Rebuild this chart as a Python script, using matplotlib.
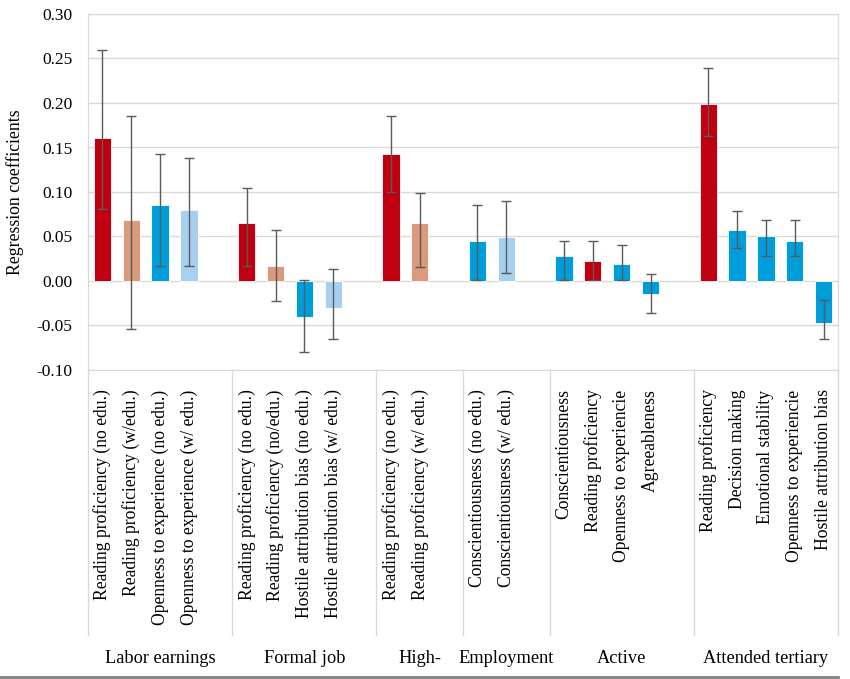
import matplotlib.pyplot as plt
from matplotlib.lines import Line2D
import matplotlib.transforms as mtransforms

plt.rcParams['font.family'] = ['Liberation Serif', 'DejaVu Serif']

groups = ['Labor earnings', 'Formal job', 'High-', 'Employment', 'Active', 'Attended tertiary']
group_sizes = [4, 4, 2, 2, 4, 5]

labels = ['Reading proficiency (no edu.)', 'Reading proficiency (w/edu.)',
          'Openness to experience (no edu.)', 'Openness to experience (w/ edu.)',
          'Reading proficiency (no edu.)', 'Reading proficiency (no/edu.)',
          'Hostile attribution bias (no edu.)', 'Hostile attribution bias (w/ edu.)',
          'Reading proficiency (no edu.)', 'Reading proficiency (w/ edu.)',
          'Conscientiousness (no edu.)', 'Conscientiousness (w/ edu.)',
          'Conscientiousness', 'Reading proficiency', 'Openness to experiencie', 'Agreeableness',
          'Reading proficiency', 'Decision making', 'Emotional stability',
          'Openness to experiencie', 'Hostile attribution bias']

coef = [0.161, 0.068, 0.085, 0.080,
        0.065, 0.017, -0.040, -0.030,
        0.143, 0.065,
        0.045, 0.049,
        0.028, 0.022, 0.019, -0.015,
        0.199, 0.057, 0.050, 0.045, -0.047]
ci_low = [0.081, -0.054, 0.017, 0.017,
          0.017, -0.023, -0.080, -0.065,
          0.100, 0.016,
          0.001, 0.009,
          0.001, 0.001, 0.001, -0.036,
          0.163, 0.037, 0.028, 0.028, -0.065]
ci_high = [0.259, 0.185, 0.143, 0.138,
           0.105, 0.057, 0.001, 0.013,
           0.185, 0.099,
           0.085, 0.090,
           0.045, 0.045, 0.040, 0.008,
           0.239, 0.079, 0.069, 0.069, -0.021]
# r = reading no edu, s = reading w/ edu, b = other no edu, l = other w/ edu
kinds = ['r', 's', 'b', 'l',
         'r', 's', 'b', 'l',
         'r', 's',
         'b', 'l',
         'b', 'r', 'b', 'b',
         'r', 'b', 'b', 'b', 'b']
palette = {'r': '#C00010', 's': '#DC9A7C', 'b': '#009DDB', 'l': '#A5D0F0'}

# slot positions: each group followed by one empty slot
pos = []
bounds = [-0.5]
slot = 0
for n in group_sizes:
    pos += list(range(slot, slot + n))
    slot += n + 1
    bounds.append(slot - 0.5)
bounds[-1] = slot - 1.5

fig = plt.figure(figsize=(8.5, 6.79), dpi=100)
ax = fig.add_axes([88/850, 1-370/679, 750/850, 356/679])

ax.set_ylim(-0.10, 0.30)
ax.set_xlim(-0.5, bounds[-1])
ax.set_yticks([-0.10, -0.05, 0, 0.05, 0.10, 0.15, 0.20, 0.25, 0.30])
ax.set_yticklabels(['%.2f' % v for v in ax.get_yticks()], fontsize=12.5)
ax.grid(axis='y', color='#D9D9D9', lw=1)
ax.set_axisbelow(True)
for s in ax.spines.values():
    s.set_color('#D9D9D9')
ax.tick_params(length=0, pad=11)

errs = [[c - lo for c, lo in zip(coef, ci_low)], [hi - c for c, hi in zip(coef, ci_high)]]
ax.bar(pos, coef, width=0.6, color=[palette[k] for k in kinds], edgecolor='white', lw=0.6, zorder=2)
ax.errorbar(pos, coef, yerr=errs, fmt='none', ecolor='#5A5A5A', elinewidth=1, capsize=3.5, capthick=1, zorder=3)

ax.set_xticks(pos)
ax.set_xticklabels(labels, rotation=90, fontsize=12.7, va='top')
ax.tick_params(axis='x', pad=14)
ax.set_ylabel('Regression coefficients', fontsize=12.8, labelpad=9)

trans = mtransforms.blended_transform_factory(ax.transData, ax.transAxes)
for b in bounds:
    ax.add_line(Line2D([b, b], [0, -0.744], transform=trans, color='#D9D9D9', lw=1, clip_on=False))
for i, g in enumerate(groups):
    ax.text((bounds[i] + bounds[i+1]) / 2, -0.81, g, transform=trans, ha='center', va='center', fontsize=13.2)

fig.add_artist(Line2D([0, 838/850], [2/679, 2/679], color='#808080', lw=2))

fig.savefig('out.png', dpi=100)
